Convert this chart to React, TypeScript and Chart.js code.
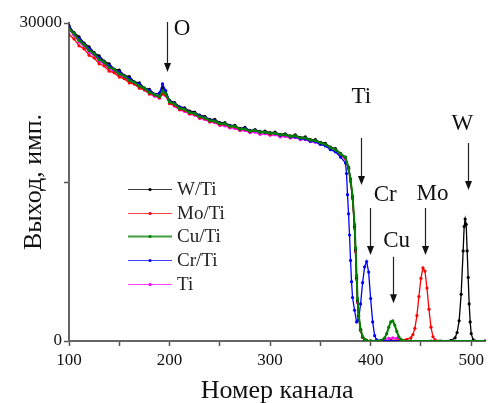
import React, { useEffect, useRef } from 'react';
import { Chart, registerables } from 'chart.js';

Chart.register(...registerables);

// ---- data (channel numbers and counts) ----
const bodyChannels = [
  100, 105, 110, 115, 120, 125, 130, 135, 140, 145,
  150, 155, 160, 165, 170, 175, 180, 185, 190, 193,
  196, 200, 205, 210, 215, 220, 225, 230, 235, 240,
  245, 250, 255, 260, 265, 270, 275, 280, 285, 290,
  295, 300, 305, 310, 315, 320, 325, 330, 335, 340,
  345, 350, 355, 360, 365, 370, 375,
];

const wTiBody = [
  29750, 29100, 28700, 28100, 27750, 27200, 26900, 26400, 26150, 25650,
  25550, 25050, 24950, 24450, 24350, 23850, 23750, 23300, 23350, 23900,
  23550, 22700, 22500, 22100, 22000, 21700, 21600, 21300, 21200, 20900,
  20900, 20600, 20600, 20350, 20350, 20050, 20150, 19850, 19950, 19750,
  19800, 19650, 19700, 19500, 19550, 19350, 19450, 19200, 19250, 19000,
  19000, 18750, 18650, 18300, 18150, 17700, 17350,
];
const moTiBody = [
  28900, 28500, 27850, 27550, 26950, 26700, 26150, 25950, 25450, 25300,
  24900, 24750, 24350, 24250, 23850, 23700, 23300, 23200, 22950, 23300,
  23200, 22400, 22250, 21850, 21750, 21450, 21400, 21050, 21000, 20700,
  20700, 20400, 20450, 20200, 20200, 19900, 20000, 19750, 19850, 19650,
  19700, 19500, 19600, 19400, 19450, 19250, 19350, 19150, 19150, 18950,
  18900, 18700, 18550, 18250, 18050, 17600, 17250,
];
const cuTiBody = [
  29450, 29000, 28350, 27950, 27400, 27100, 26550, 26300, 25800, 25600,
  25200, 25000, 24600, 24400, 24050, 23850, 23450, 23250, 23050, 23600,
  23350, 22550, 22350, 21950, 21850, 21550, 21450, 21150, 21050, 20800,
  20750, 20500, 20500, 20250, 20250, 20000, 20000, 19800, 19850, 19700,
  19700, 19600, 19600, 19450, 19450, 19300, 19350, 19150, 19150, 18950,
  18900, 18700, 18550, 18250, 18050, 17650, 17300,
];
const crTiBody = [
  29650, 29000, 28550, 28000, 27600, 27100, 26750, 26300, 26000, 25600,
  25400, 25000, 24800, 24400, 24250, 23800, 23650, 23250, 23400, 24250,
  23650, 22650, 22400, 22050, 21900, 21600, 21500, 21250, 21100, 20850,
  20800, 20550, 20500, 20300, 20250, 20000, 20050, 19800, 19850, 19700,
  19700, 19600, 19600, 19400, 19450, 19250, 19250, 19100, 19050, 18850,
  18800, 18550, 18400, 18050, 17850, 17350, 16800,
];
const tiBody = [
  29350, 28850, 28200, 27800, 27250, 26950, 26400, 26150, 25650, 25450,
  25050, 24850, 24450, 24250, 23900, 23700, 23300, 23100, 22900, 23300,
  23150, 22400, 22150, 21800, 21650, 21400, 21300, 21000, 20900, 20650,
  20600, 20350, 20300, 20100, 20050, 19850, 19850, 19650, 19700, 19500,
  19550, 19400, 19450, 19250, 19300, 19150, 19200, 19000, 19000, 18800,
  18750, 18550, 18450, 18100, 17900, 17450, 17150,
];

const wTiTailChannels = [378, 380, 382, 384, 385, 386, 387, 388, 390, 392, 394, 396, 400, 420, 440, 460, 470, 480, 484, 486, 488, 490, 492, 493, 494, 495, 496, 497, 498, 499, 500, 502, 504, 514];
const wTiTailCounts = [16400, 15300, 13600, 10800, 8600, 6000, 3800, 2400, 1100, 400, 150, 50, 0, 0, 0, 0, 0, 50, 300, 800, 1900, 4400, 8500, 10800, 11500, 11000, 8500, 6000, 3500, 1800, 700, 100, 0, 0];

const moTiTailChannels = [378, 380, 382, 384, 385, 386, 387, 388, 390, 392, 394, 396, 400, 420, 436, 440, 442, 444, 446, 448, 450, 452, 454, 456, 458, 460, 462, 464, 468, 480, 514];
const moTiTailCounts = [16300, 15200, 13500, 10700, 8500, 5900, 3700, 2300, 1000, 350, 120, 50, 0, 50, 150, 300, 600, 1200, 2400, 4200, 5900, 6900, 6600, 5000, 3000, 1300, 400, 100, 0, 0, 0];

const cuTiTailChannels = [378, 380, 382, 384, 385, 386, 387, 388, 390, 392, 394, 396, 400, 410, 414, 416, 418, 420, 422, 424, 426, 428, 430, 434, 440, 514];
const cuTiTailCounts = [16300, 15200, 13700, 11000, 8800, 6200, 4000, 2500, 1100, 400, 150, 50, 0, 50, 300, 700, 1300, 1800, 1900, 1500, 900, 400, 150, 0, 0, 0];

const crTiTailChannels = [376, 377, 378, 379, 380, 381, 382, 384, 386, 388, 390, 392, 394, 396, 398, 400, 402, 404, 406, 408, 420, 514];
const crTiTailCounts = [15800, 13800, 12000, 10000, 7600, 5600, 4100, 2900, 1800, 2000, 3500, 5500, 7000, 7500, 6500, 4000, 1800, 500, 100, 0, 0, 0];

const tiTailChannels = [378, 380, 382, 384, 385, 386, 387, 388, 390, 392, 394, 396, 400, 410, 414, 418, 422, 426, 430, 434, 440, 514];
const tiTailCounts = [16200, 15000, 13400, 10600, 8400, 5800, 3600, 2200, 1000, 350, 120, 40, 0, 50, 150, 250, 300, 250, 150, 50, 0, 0];

const seriesLabels = ['W/Ti', 'Mo/Ti', 'Cu/Ti', 'Cr/Ti', 'Ti'];
const seriesColors = ['#000000', '#ff0000', '#008000', '#0000ff', '#ff00ff'];
const seriesOrder = [2, 3, 0, 1, 4];

const yTickLabels = [0, 30000];

// element annotations: label position and arrow (in channel / counts units)
const annotationTexts = ['O', 'Ti', 'Cr', 'Cu', 'Mo', 'W'];
const annotationTextChannels = [212.4, 390.7, 414.4, 425.8, 461.5, 491.2];
const annotationTextCounts = [28870, 22450, 13200, 8870, 13300, 19900];
const arrowChannels = [197, 390.5, 399.8, 422.2, 453.6, 496.5];
const arrowFromCounts = [30100, 19150, 12550, 7950, 12550, 18680];
const arrowToCounts = [25380, 14720, 8110, 3560, 8110, 14250];

const SERIF = '"Liberation Serif", "Times New Roman", serif';

function toPoints(ch: number[], vals: number[]) {
  return ch.map((c, i) => ({ x: c, y: vals[i] }));
}

const annotationPlugin = {
  id: 'elementAnnotations',
  afterDatasetsDraw(chart: any) {
    const { ctx, scales } = chart;
    const xs = scales.x;
    const ys = scales.y;
    ctx.save();
    ctx.fillStyle = '#111';
    ctx.strokeStyle = '#222';
    ctx.font = `23px ${SERIF}`;
    ctx.textAlign = 'center';
    ctx.textBaseline = 'alphabetic';
    annotationTexts.forEach((t, i) => {
      ctx.fillText(t, xs.getPixelForValue(annotationTextChannels[i]), ys.getPixelForValue(annotationTextCounts[i]));
      const ax = Math.round(xs.getPixelForValue(arrowChannels[i])) + 0.5;
      const y1 = ys.getPixelForValue(arrowFromCounts[i]);
      const y2 = ys.getPixelForValue(arrowToCounts[i]);
      ctx.lineWidth = 1.2;
      ctx.beginPath();
      ctx.moveTo(ax, y1);
      ctx.lineTo(ax, y2 - 8);
      ctx.stroke();
      ctx.beginPath();
      ctx.moveTo(ax - 3.5, y2 - 9);
      ctx.lineTo(ax + 3.5, y2 - 9);
      ctx.lineTo(ax, y2);
      ctx.closePath();
      ctx.fill();
    });
    ctx.restore();
  },
};

const legendPlugin = {
  id: 'insideLegend',
  afterDatasetsDraw(chart: any) {
    const { ctx, chartArea } = chart;
    const x0 = chartArea.left + 59;
    const x1 = chartArea.left + 103;
    const tx = chartArea.left + 108;
    const yStart = chartArea.top + 166;
    const step = 23.7;
    ctx.save();
    ctx.font = `19px ${SERIF}`;
    ctx.textAlign = 'left';
    ctx.textBaseline = 'middle';
    chart.data.datasets.forEach((ds: any, i: number) => {
      const y = Math.round(yStart + i * step) + 0.5;
      ctx.strokeStyle = ds.borderColor;
      ctx.globalAlpha = 0.75;
      ctx.lineWidth = ds.label === 'Cu/Ti' ? 2 : 1;
      ctx.beginPath();
      ctx.moveTo(x0, y);
      ctx.lineTo(x1, y);
      ctx.stroke();
      ctx.globalAlpha = 1;
      ctx.fillStyle = ds.borderColor;
      ctx.beginPath();
      ctx.arc((x0 + x1) / 2, y, 1.6, 0, Math.PI * 2);
      ctx.fill();
      ctx.fillStyle = '#222';
      ctx.fillText(ds.label, tx, y + 1);
    });
    ctx.restore();
  },
};

export default function App() {
  const canvasRef = useRef<HTMLCanvasElement | null>(null);

  useEffect(() => {
    const canvas = canvasRef.current;
    if (!canvas) return;
    const bodies = [wTiBody, moTiBody, cuTiBody, crTiBody, tiBody];
    const tailCh = [wTiTailChannels, moTiTailChannels, cuTiTailChannels, crTiTailChannels, tiTailChannels];
    const tailV = [wTiTailCounts, moTiTailCounts, cuTiTailCounts, crTiTailCounts, tiTailCounts];
    const datasets = seriesLabels.map((label, i) => ({
      label,
      data: toPoints(bodyChannels.concat(tailCh[i]), bodies[i].concat(tailV[i])),
      borderColor: seriesColors[i],
      backgroundColor: seriesColors[i],
      borderWidth: label === 'Cu/Ti' ? 2 : 1.3,
      pointRadius: 1.6,
      pointHoverRadius: 1.6,
      pointBorderWidth: 0,
      pointBackgroundColor: seriesColors[i],
      tension: 0,
      fill: false,
      order: seriesOrder[i],
    }));

    const chart = new Chart(canvas, {
      type: 'line',
      data: { datasets },
      options: {
        animation: false,
        responsive: false,
        maintainAspectRatio: false,
        layout: { padding: { left: 0, top: 23, right: 1, bottom: 0 } },
        plugins: {
          legend: { display: false },
          tooltip: { enabled: false },
        },
        scales: {
          x: {
            type: 'linear',
            min: 100,
            max: 514,
            afterFit: (s: any) => { s.height = 62; },
            border: { display: true, color: '#666', width: 2 },
            grid: { display: true, drawOnChartArea: false, drawTicks: true, tickLength: 5, tickColor: '#555', tickWidth: 1.5 },
            ticks: {
              stepSize: 50,
              includeBounds: false,
              autoSkip: false,
              maxRotation: 0,
              padding: 4,
              color: '#111',
              font: { family: SERIF, size: 17 },
              callback: (v: any) => (Number(v) % 100 === 0 ? String(v) : ''),
            },
            title: {
              display: true,
              text: 'Номер канала',
              color: '#111',
              font: { family: SERIF, size: 26 },
              padding: { top: 0, bottom: -4 },
            },
          },
          y: {
            type: 'linear',
            min: 0,
            max: 30000,
            afterFit: (s: any) => { s.width = 69; },
            border: { display: true, color: '#666', width: 2 },
            grid: { display: true, drawOnChartArea: false, drawTicks: true, tickLength: 5, tickColor: '#555', tickWidth: 1.5 },
            ticks: {
              stepSize: 15000,
              includeBounds: false,
              padding: 2,
              color: '#111',
              font: { family: SERIF, size: 17 },
              callback: (v: any) => (yTickLabels.includes(Number(v)) ? String(v) : ''),
            },
            title: {
              display: true,
              text: 'Выход, имп.',
              color: '#111',
              font: { family: SERIF, size: 26 },
              padding: { top: 19, bottom: 0 },
            },
          },
        },
      },
      plugins: [legendPlugin, annotationPlugin],
    } as any);

    return () => chart.destroy();
  }, []);

  return (
    <div style={{ position: 'fixed', left: 0, top: 0, width: 488, height: 403, background: '#fff' }}>
      <canvas ref={canvasRef} width={488} height={403} style={{ display: 'block', width: 488, height: 403 }} />
    </div>
  );
}
